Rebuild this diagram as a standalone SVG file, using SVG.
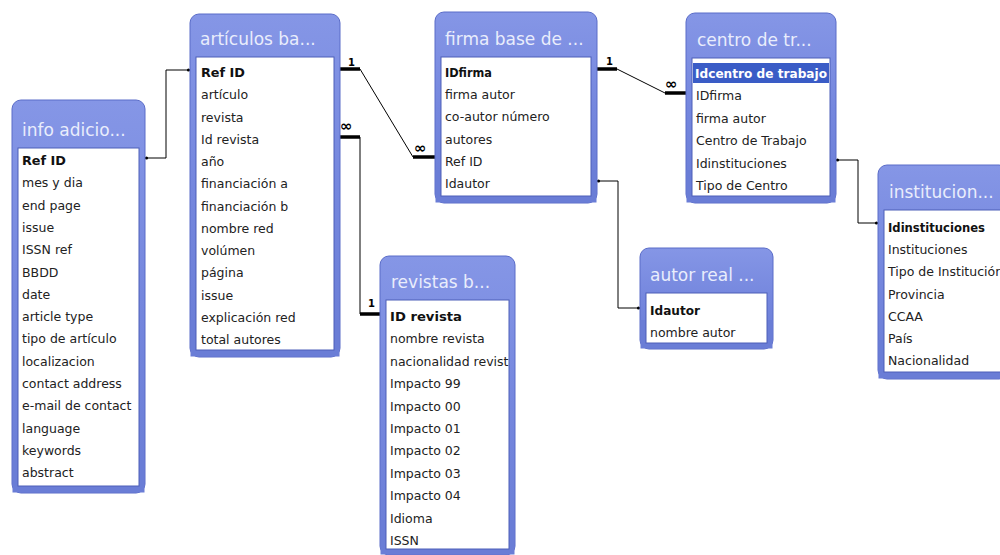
<svg xmlns="http://www.w3.org/2000/svg" width="1000" height="555" viewBox="0 0 1000 555">
<defs>
<linearGradient id="hdr" x1="0" y1="0" x2="0" y2="1">
<stop offset="0" stop-color="#8596e6"/>
<stop offset="0.5" stop-color="#7587de"/>
<stop offset="1" stop-color="#6a7dd6"/>
</linearGradient>
<clipPath id="clipRev"><rect x="386" y="300" width="123" height="249"/></clipPath>
<clipPath id="clipInst"><rect x="884" y="210" width="116" height="162"/></clipPath>
</defs>
<style>
.box{fill:url(#hdr);stroke:#5a6cc8;stroke-width:1}
.panel{fill:#ffffff;stroke:#4d5fb8;stroke-width:1}
.title{font-family:"DejaVu Sans",Verdana,sans-serif;font-size:17px;fill:#e9edfc}
.f{font-family:"DejaVu Sans",Verdana,sans-serif;font-size:12.5px;fill:#222}
.k{font-weight:bold;fill:#111}
.thin{fill:none;stroke:#000;stroke-width:1}
.thick{fill:none;stroke:#000;stroke-width:3.5}
.lab{font-family:"DejaVu Sans",sans-serif;font-weight:bold;font-size:10px;fill:#000}
.inf{font-family:"DejaVu Sans",sans-serif;font-weight:bold;font-size:15px;fill:#000}
</style>

<g id="connectors">
<polyline class="thin" points="145,158 166,158 166,70 190,70"/>
<circle cx="146.5" cy="158" r="1.6"/><circle cx="188.5" cy="70" r="1.6"/>
<line class="thick" x1="340" y1="69" x2="360" y2="69"/>
<line class="thin" x1="360" y1="69" x2="413" y2="157"/>
<line class="thick" x1="413" y1="157" x2="435" y2="157"/>
<text class="lab" x="348" y="66">1</text>
<text class="inf" x="414" y="153">∞</text>
<line class="thick" x1="340" y1="137" x2="360" y2="137"/>
<polyline class="thin" points="360,137 360,314"/>
<line class="thick" x1="360" y1="314" x2="380" y2="314"/>
<text class="inf" x="340" y="131">∞</text>
<text class="lab" x="368" y="307">1</text>
<line class="thick" x1="597" y1="69" x2="617" y2="69"/>
<line class="thin" x1="617" y1="69" x2="665" y2="93"/>
<line class="thick" x1="665" y1="93" x2="686" y2="93"/>
<text class="lab" x="606" y="65">1</text>
<text class="inf" x="665" y="89">∞</text>
<polyline class="thin" points="597,181 618,181 618,308 640,308"/>
<circle cx="598.5" cy="181" r="1.6"/><circle cx="638.5" cy="308" r="1.6"/>
<polyline class="thin" points="836,160 858,160 858,223 878,223"/>
<circle cx="837.5" cy="160" r="1.6"/><circle cx="876.5" cy="223" r="1.6"/>
</g>

<g id="info">
<rect class="box" x="12" y="100" width="133" height="393" rx="9"/>
<rect x="12.5" y="460" width="132" height="32.5" fill="#6a7dd6"/>
<rect class="panel" x="18" y="148" width="121" height="338"/>
<text class="title" x="22" y="136">info adicio...</text>
<text class="f k" x="22" y="165" textLength="44" lengthAdjust="spacingAndGlyphs">Ref ID</text>
<text class="f" x="22" y="187.3">mes y dia</text>
<text class="f" x="22" y="209.6">end page</text>
<text class="f" x="22" y="231.9">issue</text>
<text class="f" x="22" y="254.2">ISSN ref</text>
<text class="f" x="22" y="276.5">BBDD</text>
<text class="f" x="22" y="298.8">date</text>
<text class="f" x="22" y="321.1">article type</text>
<text class="f" x="22" y="343.4">tipo de artículo</text>
<text class="f" x="22" y="365.7">localizacion</text>
<text class="f" x="22" y="388">contact address</text>
<text class="f" x="22" y="410.3">e-mail de contact</text>
<text class="f" x="22" y="432.6">language</text>
<text class="f" x="22" y="454.9">keywords</text>
<text class="f" x="22" y="477.2">abstract</text>
</g>

<g id="articulos">
<rect class="box" x="190" y="14" width="150" height="343" rx="9"/>
<rect x="190.5" y="320" width="149" height="36.5" fill="#6a7dd6"/>
<rect class="panel" x="196" y="57" width="138" height="293"/>
<text class="title" x="200" y="45">artículos ba...</text>
<text class="f k" x="201" y="77" textLength="44" lengthAdjust="spacingAndGlyphs">Ref ID</text>
<text class="f" x="201" y="99.3">artículo</text>
<text class="f" x="201" y="121.5">revista</text>
<text class="f" x="201" y="143.8">Id revista</text>
<text class="f" x="201" y="166">año</text>
<text class="f" x="201" y="188.3">financiación a</text>
<text class="f" x="201" y="210.5">financiación b</text>
<text class="f" x="201" y="232.8">nombre red</text>
<text class="f" x="201" y="255">volúmen</text>
<text class="f" x="201" y="277.3">página</text>
<text class="f" x="201" y="299.5">issue</text>
<text class="f" x="201" y="321.8">explicación red</text>
<text class="f" x="201" y="344">total autores</text>
</g>

<g id="firma">
<rect class="box" x="435" y="12" width="162" height="191" rx="9"/>
<rect x="435.5" y="170" width="161" height="32.5" fill="#6a7dd6"/>
<rect class="panel" x="441" y="57" width="150" height="139"/>
<text class="title" x="445" y="45">firma base de ...</text>
<text class="f k" x="445" y="77" textLength="47" lengthAdjust="spacingAndGlyphs">IDfirma</text>
<text class="f" x="445" y="99.2">firma autor</text>
<text class="f" x="445" y="121.4">co-autor número</text>
<text class="f" x="445" y="143.6">autores</text>
<text class="f" x="445" y="165.8">Ref ID</text>
<text class="f" x="445" y="188">Idautor</text>
</g>

<g id="centro">
<rect class="box" x="686" y="13" width="150" height="190" rx="9"/>
<rect x="686.5" y="170" width="149" height="32.5" fill="#6a7dd6"/>
<rect class="panel" x="692" y="58" width="138" height="138"/>
<rect x="693" y="63" width="136" height="20" fill="#3a5cc6"/>
<text class="title" x="697" y="46">centro de tr...</text>
<text class="f k" x="695" y="78" style="fill:#fff" textLength="132" lengthAdjust="spacingAndGlyphs">Idcentro de trabajo</text>
<text class="f" x="696" y="100.4">IDfirma</text>
<text class="f" x="696" y="122.8">firma autor</text>
<text class="f" x="696" y="145.2">Centro de Trabajo</text>
<text class="f" x="696" y="167.6">Idinstituciones</text>
<text class="f" x="696" y="190">Tipo de Centro</text>
</g>

<g id="revistas">
<rect class="box" x="380" y="256" width="135" height="299" rx="9"/>
<rect x="380.5" y="520" width="134" height="34.5" fill="#6a7dd6"/>
<rect class="panel" x="386" y="300" width="123" height="249"/>
<text class="title" x="391" y="288">revistas b...</text>
<g clip-path="url(#clipRev)">
<text class="f k" x="390" y="321" textLength="72" lengthAdjust="spacingAndGlyphs">ID revista</text>
<text class="f" x="390" y="343.4">nombre revista</text>
<text class="f" x="390" y="365.8">nacionalidad revista</text>
<text class="f" x="390" y="388.2">Impacto 99</text>
<text class="f" x="390" y="410.6">Impacto 00</text>
<text class="f" x="390" y="433">Impacto 01</text>
<text class="f" x="390" y="455.4">Impacto 02</text>
<text class="f" x="390" y="477.8">Impacto 03</text>
<text class="f" x="390" y="500.2">Impacto 04</text>
<text class="f" x="390" y="522.6">Idioma</text>
<text class="f" x="390" y="545">ISSN</text>
</g>
</g>

<g id="autor">
<rect class="box" x="640" y="248" width="133" height="101" rx="9"/>
<rect x="640.5" y="320" width="132" height="28.5" fill="#6a7dd6"/>
<rect class="panel" x="646" y="293" width="121" height="50"/>
<text class="title" x="650" y="281">autor real ...</text>
<text class="f k" x="650" y="315" textLength="50" lengthAdjust="spacingAndGlyphs">Idautor</text>
<text class="f" x="650" y="337">nombre autor</text>
</g>

<g id="institucion">
<rect class="box" x="878" y="165" width="130" height="214" rx="9"/>
<rect x="878.5" y="340" width="129" height="38.5" fill="#6a7dd6"/>
<rect class="panel" x="884" y="210" width="124" height="162"/>
<text class="title" x="889" y="198">institucion...</text>
<g clip-path="url(#clipInst)">
<text class="f k" x="888" y="232" textLength="97" lengthAdjust="spacingAndGlyphs">Idinstituciones</text>
<text class="f" x="888" y="254.2">Instituciones</text>
<text class="f" x="888" y="276.4">Tipo de Institución</text>
<text class="f" x="888" y="298.6">Provincia</text>
<text class="f" x="888" y="320.8">CCAA</text>
<text class="f" x="888" y="343">País</text>
<text class="f" x="888" y="365.2">Nacionalidad</text>
</g>
</g>
</svg>
